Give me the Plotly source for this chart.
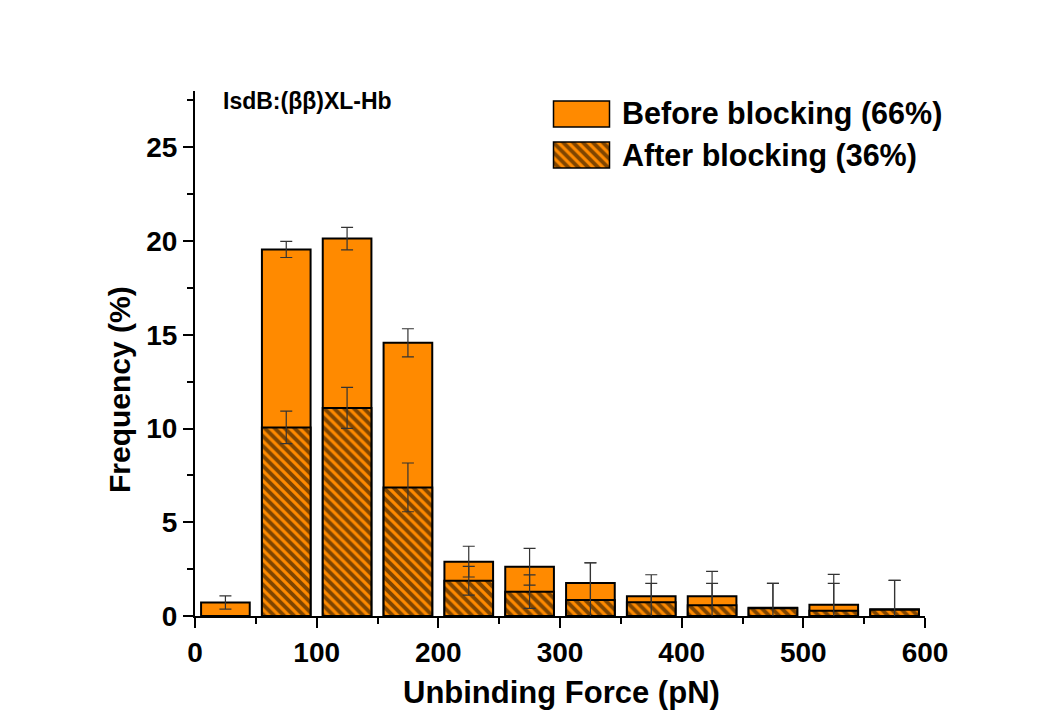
import plotly.graph_objects as go

# Unbinding force histogram, 50 pN bins (bin centres in pN)
force_bins = [25, 75, 125, 175, 225, 275, 325, 375, 425, 475, 525, 575]

# Frequency (%) before blocking, with error
before = [0.72, 19.55, 20.13, 14.57, 2.90, 2.63, 1.76, 1.05, 1.05, 0.44, 0.60, 0.36]
before_err = [0.35, 0.43, 0.60, 0.75, 0.82, 0.98, 1.08, 1.15, 1.33, 1.30, 1.62, 1.54]

# Frequency (%) after blocking, with error
after = [None, 10.06, 11.10, 6.86, 1.88, 1.30, 0.85, 0.73, 0.57, 0.42, 0.28, 0.34]
after_err = [None, 0.87, 1.09, 1.30, 0.77, 0.89, 1.98, 1.01, 1.17, 1.32, 1.46, 1.56]

x_ticks = [0, 100, 200, 300, 400, 500, 600]
y_ticks = [0, 5, 10, 15, 20, 25]

legend_labels = ["Before blocking (66%)", "After blocking (36%)"]
panel_title = "IsdB:(\u03b2\u03b2)XL-Hb"
x_title = "Unbinding Force (pN)"
y_title = "Frequency (%)"

ORANGE = "#FF8A00"
FONT = "Liberation Sans, Arial, Helvetica, sans-serif"
hatch = dict(shape="\\", fgcolor="black", bgcolor=ORANGE, size=7, solidity=0.55)

W, H = 1063, 725
ML, MR, MT, MB = 195, 138, 91, 109
PW, PH = W - ML - MR, H - MT - MB


def px_x(p):
    return (p - ML) / PW


def px_y(p):
    return (H - MB - p) / PH


fig = go.Figure()

fig.add_trace(go.Bar(
    x=force_bins, y=before, width=40,
    marker=dict(color=ORANGE, line=dict(color="black", width=2)),
    error_y=dict(type="data", array=before_err, visible=True,
                 color="#333333", thickness=1.2, width=6),
    showlegend=False,
))

fig.add_trace(go.Bar(
    x=force_bins, y=after, width=40,
    marker=dict(color=ORANGE, pattern=hatch, line=dict(color="black", width=2)),
    error_y=dict(type="data", array=after_err, visible=True,
                 color="#333333", thickness=1.2, width=6),
    showlegend=False,
))

# Legend keys drawn on a hidden overlay axis measured in screen pixels
fig.add_trace(go.Bar(
    x=[581.5], y=[26], base=[101], width=56, xaxis="x2", yaxis="y2",
    marker=dict(color=ORANGE, line=dict(color="black", width=1.5)),
    showlegend=False, hoverinfo="skip",
))
fig.add_trace(go.Bar(
    x=[581.5], y=[26], base=[142], width=56, xaxis="x2", yaxis="y2",
    marker=dict(color=ORANGE, pattern=hatch, line=dict(color="black", width=1.5)),
    showlegend=False, hoverinfo="skip",
))

axis_font = dict(family=FONT, size=28, color="black", weight="bold")

fig.update_layout(
    width=W, height=H,
    margin=dict(l=ML, r=MR, t=MT, b=MB, pad=0),
    paper_bgcolor="white", plot_bgcolor="white",
    barmode="overlay",
    xaxis=dict(
        range=[0, 600], tickvals=x_ticks, ticks="outside", ticklen=10,
        tickwidth=2, tickcolor="black", showline=True, linewidth=2,
        linecolor="black", showgrid=False, zeroline=False,
        tickfont=axis_font,
        minor=dict(dtick=50, tick0=0, ticks="outside", ticklen=6,
                   tickwidth=2, tickcolor="black", showgrid=False),
    ),
    yaxis=dict(
        range=[0, 28], tickvals=y_ticks, ticks="outside", ticklen=10,
        tickwidth=2, tickcolor="black", showline=True, linewidth=2,
        linecolor="black", showgrid=False, zeroline=False,
        tickfont=axis_font,
        minor=dict(dtick=2.5, tick0=0, ticks="outside", ticklen=6,
                   tickwidth=2, tickcolor="black", showgrid=False),
    ),
    xaxis2=dict(overlaying="x", range=[ML, ML + PW], visible=False),
    yaxis2=dict(overlaying="y", range=[H - MB, MT], visible=False),
    annotations=[
        dict(text=panel_title, x=px_x(221), y=px_y(101), xref="paper", yref="paper",
             xanchor="left", yanchor="middle", showarrow=False,
             font=dict(family=FONT, size=23, color="black", weight="bold")),
        dict(text=legend_labels[0], x=px_x(620), y=px_y(113), xref="paper", yref="paper",
             xanchor="left", yanchor="middle", showarrow=False,
             font=dict(family=FONT, size=30.5, color="black", weight="bold")),
        dict(text=legend_labels[1], x=px_x(620), y=px_y(155), xref="paper", yref="paper",
             xanchor="left", yanchor="middle", showarrow=False,
             font=dict(family=FONT, size=30.5, color="black", weight="bold")),
        dict(text=x_title, x=px_x(561), y=px_y(692), xref="paper", yref="paper",
             xanchor="center", yanchor="middle", showarrow=False,
             font=dict(family=FONT, size=31, color="black", weight="bold")),
        dict(text=y_title, x=px_x(119), y=px_y(390), xref="paper", yref="paper",
             xanchor="center", yanchor="middle", textangle=-90, showarrow=False,
             font=dict(family=FONT, size=30, color="black", weight="bold")),
    ],
)

fig.write_html("out.html")
